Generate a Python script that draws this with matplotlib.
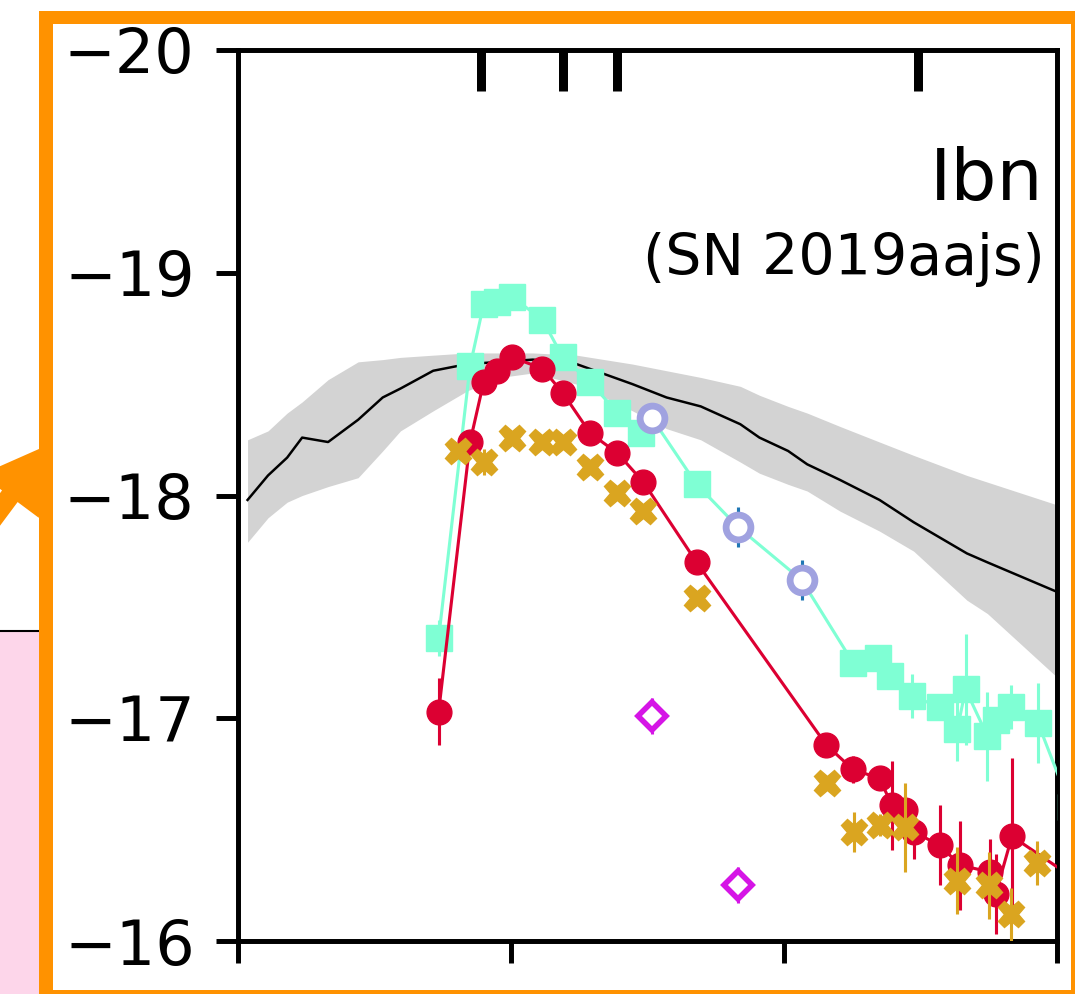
import numpy as np
import matplotlib
matplotlib.use("Agg")
import matplotlib.pyplot as plt
from matplotlib.patches import Rectangle, FancyArrowPatch

# ---- light-curve data (days from peak, absolute mag) ----
# template median and spread
tpl_t = [-19.3, -17.8, -16.4, -15.3, -13.4, -11.2, -9.4, -8.1, -5.7, -3.2, -0.8, 1.6,
         4.8, 8.9, 11.4, 13.9, 16.8, 18.2, 20.3, 21.7, 24.1, 27.0, 29.5, 33.4, 34.9, 39.9, 42.0]
tpl_med = [-17.98, -18.09, -18.17, -18.26, -18.24, -18.34, -18.44, -18.48, -18.56, -18.59, -18.60, -18.61,
           -18.59, -18.50, -18.44, -18.40, -18.32, -18.26, -18.20, -18.14, -18.07, -17.98, -17.88, -17.74,
           -17.70, -17.57, -17.52]
tpl_hi = [-18.25, -18.29, -18.37, -18.42, -18.52, -18.60, -18.61, -18.62, -18.63, -18.64, -18.64, -18.64,
          -18.63, -18.59, -18.56, -18.53, -18.49, -18.45, -18.40, -18.37, -18.31, -18.24, -18.18, -18.09,
          -18.06, -17.96, -17.93]
tpl_lo = [-17.79, -17.90, -17.97, -18.00, -18.04, -18.08, -18.20, -18.29, -18.38, -18.47, -18.53, -18.55,
          -18.50, -18.38, -18.30, -18.25, -18.15, -18.10, -18.05, -18.02, -17.93, -17.84, -17.75, -17.53,
          -17.47, -17.19, -17.08]

# r band (red circles)
r_t = [-5.3, -3.0, -2.0, -1.0, 0.1, 2.3, 3.8, 5.8, 7.8, 9.7, 13.6, 23.1, 25.05, 27.0, 27.9, 28.9,
       29.5, 31.4, 32.9, 35.1, 35.5, 36.7, 42.0]
r_mag = [-17.03, -18.24, -18.51, -18.56, -18.62, -18.57, -18.46, -18.28, -18.19, -18.06, -17.70, -16.88,
         -16.77, -16.73, -16.61, -16.59, -16.49, -16.43, -16.34, -16.31, -16.21, -16.47, -16.25]
r_err = [0.15, 0.03, 0.03, 0.03, 0.03, 0.03, 0.03, 0.03, 0.03, 0.03, 0.03, 0.03,
         0.06, 0.04, 0.20, 0.06, 0.12, 0.18, 0.20, 0.15, 0.18, 0.35, 0.10]

# g band (aquamarine squares)
g_t = [-5.3, -3.0, -2.0, -1.0, 0.1, 2.3, 3.8, 5.8, 7.8, 9.5, 13.6, 25.05, 26.9, 27.8, 29.4,
       31.4, 32.7, 33.3, 34.9, 35.5, 36.6, 38.6, 41.0]
g_mag = [-17.36, -18.58, -18.86, -18.87, -18.89, -18.79, -18.62, -18.51, -18.37, -18.28, -18.05, -17.25,
         -17.27, -17.19, -17.10, -17.05, -16.95, -17.13, -16.92, -16.99, -17.05, -16.98, -16.60]
g_err = [0.08, 0.02, 0.02, 0.02, 0.02, 0.02, 0.02, 0.02, 0.02, 0.02, 0.02, 0.03,
         0.05, 0.04, 0.10, 0.06, 0.14, 0.25, 0.20, 0.05, 0.10, 0.18, 0.10]

# g band, second instrument (open circles)
g2_t = [10.3, 16.6, 21.3]
g2_mag = [-18.35, -17.86, -17.62]
g2_err = [0.03, 0.09, 0.09]

# o band (gold crosses)
o_t = [-3.9, -2.0, 0.1, 2.3, 3.8, 5.8, 7.8, 9.7, 13.6, 23.15, 25.1, 27.0, 28.9, 32.7, 35.0, 36.6, 38.5]
o_mag = [-18.20, -18.15, -18.26, -18.24, -18.24, -18.13, -18.01, -17.93, -17.54, -16.71, -16.49,
         -16.52, -16.51, -16.27, -16.25, -16.12, -16.35]
o_err = [0.03, 0.06, 0.03, 0.03, 0.03, 0.03, 0.03, 0.03, 0.03, 0.03, 0.09, 0.05, 0.20, 0.15, 0.15, 0.12, 0.10]

# UV (magenta diamonds)
uv_t = [10.3, 16.6]
uv_mag = [-17.01, -16.25]
uv_err = [0.08, 0.08]

# spectral epochs (top ticks)
spec_t = [-2.2, 3.8, 7.8, 29.8]

S = 4.46  # scale: original points -> points at 100 dpi
W, H = 1075, 994
ORANGE = "#FF9200"

fig = plt.figure(figsize=(W / 100, H / 100), dpi=100)
ax = fig.add_axes([238 / W, 1 - 941 / H, 819 / W, 891 / H])

ax.fill_between(tpl_t, tpl_hi, tpl_lo, color="lightgray", lw=0, zorder=1)
ax.plot(tpl_t, tpl_med, color="black", lw=0.4 * S, zorder=2)

# g line runs through both instruments
g_all = sorted(zip(g_t + g2_t, g_mag + g2_mag))
ax.plot([p[0] for p in g_all], [p[1] for p in g_all], color="aquamarine", lw=0.5 * S, zorder=3)
ax.errorbar(g_t, g_mag, yerr=g_err, fmt="s", color="aquamarine", ms=4.2 * S,
            elinewidth=0.5 * S, capsize=0, zorder=4)
ax.errorbar(g2_t, g2_mag, yerr=g2_err, fmt="o", mfc="white", mec="#A0A2E0", mew=1.1 * S,
            ms=4.0 * S, ecolor="#1f77b4", elinewidth=0.5 * S, capsize=0, zorder=5)

ax.errorbar(r_t, r_mag, yerr=r_err, fmt="o-", color="#DC0032", ms=4.0 * S, lw=0.5 * S,
            elinewidth=0.5 * S, capsize=0, zorder=6)
ax.errorbar(o_t, o_mag, yerr=o_err, fmt="X", color="goldenrod", ms=4.3 * S,
            elinewidth=0.5 * S, capsize=0, zorder=7)
ax.errorbar(uv_t, uv_mag, yerr=uv_err, fmt="D", mfc="white", mec="#D515E6", ecolor="#D515E6",
            mew=0.9 * S, ms=3.1 * S, elinewidth=0.5 * S, capsize=0, zorder=8)

ax.vlines(spec_t, 1 - 0.046, 1, transform=ax.get_xaxis_transform(), color="black",
          lw=1.45 * S, zorder=9)

ax.set_xlim(-20, 40)
ax.set_ylim(-16, -20)
ax.set_xticks([-20, 0, 20, 40])
ax.set_yticks([-20, -19, -18, -17, -16])
ax.tick_params(labelbottom=False, length=3.5 * S, width=0.8 * S, pad=3.5 * S,
               labelsize=10 * S)
for sp in ax.spines.values():
    sp.set_linewidth(0.8 * S)

ax.text(0.983, 0.832, "Ibn", transform=ax.transAxes, ha="right", va="baseline",
        fontsize=11.7 * S)
ax.text(0.985, 0.748, "(SN 2019aajs)", transform=ax.transAxes, ha="right", va="baseline",
        fontsize=9.2 * S)


def fig_box(x0, y0, x1, y1, **kw):
    # box given in pixel coords measured from the top-left corner
    return Rectangle((x0 / W, 1 - y1 / H), (x1 - x0) / W, (y1 - y0) / H,
                     transform=fig.transFigure, **kw)


# neighbouring panel bits and highlight frame
fig.add_artist(fig_box(-10, 631, 45, H + 10, facecolor="#FDD6EA", edgecolor="black",
                       lw=1.5, zorder=0))
fig.add_artist(FancyArrowPatch((-60 / W, 1 - 590 / H), (48 / W, 1 - 445 / H),
                               transform=fig.transFigure, color=ORANGE, lw=0,
                               arrowstyle="simple,head_length=46,head_width=52,tail_width=14",
                               mutation_scale=1, shrinkA=0, shrinkB=0, zorder=5))
for box in [(39, 11, 53, H), (39, 11, W, 24), (1071, 11, W, H), (39, 990, W, H)]:
    fig.add_artist(fig_box(*box, facecolor=ORANGE, lw=0, zorder=10))

fig.savefig("out.png", dpi=100)
